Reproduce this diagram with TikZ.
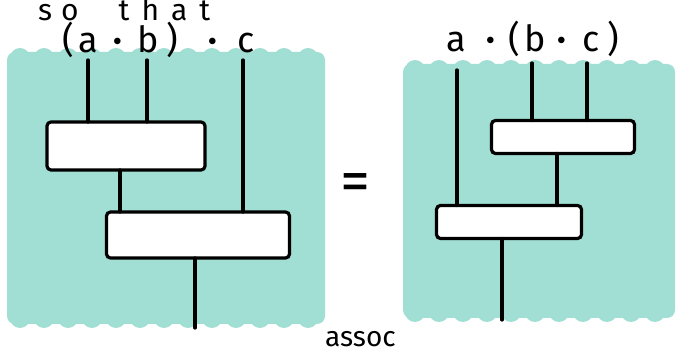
\documentclass[tikz,border=0pt]{standalone}
\usepackage{fontspec}
\setmainfont{Fira Sans}
\definecolor{mint}{HTML}{A1DED3}
\tikzset{
  region/.style={fill=mint, rounded corners=8pt},
  blob/.style={fill=mint},
  morph/.style={draw=black, line width=3.2pt, fill=white, rounded corners=4pt,
    inner sep=0pt, outer sep=0pt},
  wire/.style={line width=3.2pt, line cap=round},
  label/.style={font=\fontsize{36}{40}\selectfont, inner sep=0pt, anchor=base west},
  note/.style={font=\fontsize{28}{32}\selectfont, inner sep=0pt, anchor=base west},
}
\newcommand{\dotop}{\textbf{·}}
\begin{document}
\begin{tikzpicture}[x=1pt,y=-1pt]
\useasboundingbox (0,0) rectangle (678,355);

% shaded regions with brush-like scalloped top and bottom edges
\fill[region] (7,52) rectangle (325,324);
\foreach \x in {20,44,...,316} {
  \fill[blob] (\x,58) circle (10pt);
  \fill[blob] (\x,318) circle (10pt);
}
\fill[region] (403,64) rectangle (675,318);
\foreach \x in {415,439,...,665} {
  \fill[blob] (\x,70) circle (10pt);
  \fill[blob] (\x,312) circle (10pt);
}

% caption above
\node[note, font=\fontsize{30}{34}\selectfont] (so) at (38,21)
  {s\hspace{9pt}o\hspace{40pt}t\hspace{12pt}h\hspace{12pt}a\hspace{12pt}t};

% left diagram: (a.b).c
\node[label] (lt) at (62,53) {(\hspace{5pt}a\hspace{15pt}\dotop\hspace{15pt}b\hspace{8pt})\hspace{30pt}\dotop\hspace{21pt}c};
\node[morph, minimum width=158pt, minimum height=48pt] (m1) at (126,146) {};
\node[morph, minimum width=183pt, minimum height=46pt] (m2) at (198,235) {};
\coordinate (la) at (88,60);
\coordinate (lb) at (147,60);
\coordinate (lc) at (243,60);
\coordinate (lout) at (195,328);
\draw[wire] (la) -- (la |- m1.north);
\draw[wire] (lb) -- (lb |- m1.north);
\draw[wire] (lc) -- (lc |- m2.north);
\draw[wire] (m1.south -| 120,0) -- (m2.north -| 120,0);
\draw[wire] (lout |- m2.south) -- (lout);

% equals sign
\node[font=\fontsize{60}{64}\selectfont, inner sep=0pt] (eq) at (355,188) {=};

% right diagram: a.(b.c)
\node[label] (rt) at (446,52) {a\hspace{21pt}\dotop\hspace{13pt}(\hspace{4pt}b\hspace{12pt}\dotop\hspace{16pt}c\hspace{8pt})};
\node[morph, minimum width=143pt, minimum height=33pt] (r1) at (563,137) {};
\node[morph, minimum width=145pt, minimum height=33pt] (r2) at (509,222) {};
\coordinate (ra) at (457,70);
\coordinate (rb) at (532,63);
\coordinate (rc) at (587,63);
\coordinate (rout) at (502,320);
\draw[wire] (ra) -- (ra |- r2.north);
\draw[wire] (rb) -- (rb |- r1.north);
\draw[wire] (rc) -- (rc |- r1.north);
\draw[wire] (r1.south -| 557,0) -- (r2.north -| 557,0);
\draw[wire] (rout |- r2.south) -- (rout);

% caption below
\node[note] (assoc) at (325,347) {assoc};
\end{tikzpicture}
\end{document}
